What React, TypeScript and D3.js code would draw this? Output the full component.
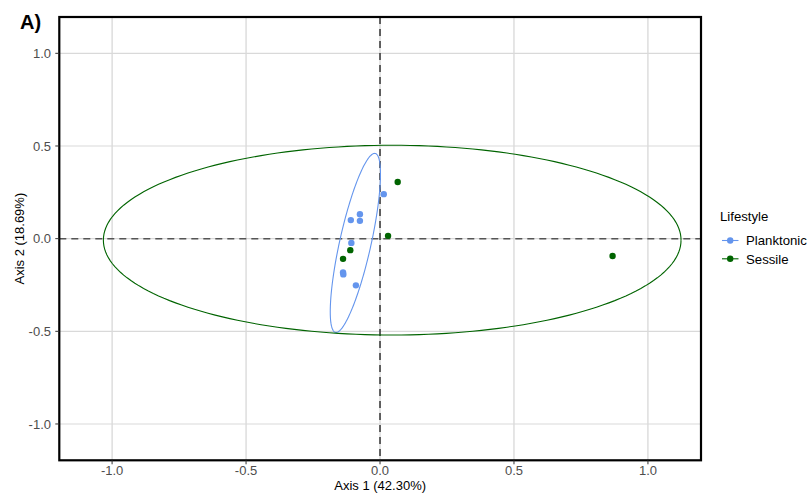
import React from "react";
import * as d3 from "d3";

const planktonicX = [0.014, -0.075, -0.109, -0.075, -0.107, -0.138, -0.137, -0.090];
const planktonicY = [0.240, 0.132, 0.100, 0.096, -0.023, -0.182, -0.193, -0.252];
const sessileX = [0.066, 0.030, -0.111, -0.138, 0.868];
const sessileY = [0.306, 0.015, -0.062, -0.109, -0.094];

// ellipse: center, conjugate half-axis vectors u, v (data units)
const planktonicEllipse = [-0.092, -0.023, 0.072, 0.483, 0.06, 0.0];
const sessileEllipse = [0.0455, -0.008, 1.078, 0.0, 0.0, 0.512];

const xTicks = [-1.0, -0.5, 0.0, 0.5, 1.0];
const yTicks = [-1.0, -0.5, 0.0, 0.5, 1.0];
const groups = ["Planktonic", "Sessile"];
const colors = ["#6495ED", "#006400"];

const W = 810, H = 493;
const L = 59.3, R = 701, T = 17, B = 460.3;
const FONT = "'Liberation Sans', Arial, Helvetica, sans-serif";
const fmt = (t: number) => t.toFixed(1);

export default function App() {
  const x = d3.scaleLinear().domain([-1.197, 1.198]).range([L, R]);
  const y = d3.scaleLinear().domain([-1.196, 1.196]).range([B, T]);

  const ellipsePath = (e: number[]) => {
    const pts: [number, number][] = d3.range(0, 201).map((i) => {
      const t = (i / 200) * 2 * Math.PI;
      return [
        x(e[0] + e[2] * Math.cos(t) + e[4] * Math.sin(t)),
        y(e[1] + e[3] * Math.cos(t) + e[5] * Math.sin(t)),
      ];
    });
    return d3.line()(pts) || "";
  };

  const series = [
    { xs: planktonicX, ys: planktonicY, e: planktonicEllipse, c: colors[0] },
    { xs: sessileX, ys: sessileY, e: sessileEllipse, c: colors[1] },
  ];

  return (
    <svg width={W} height={H} style={{ position: "absolute", left: 0, top: 0 }} fontFamily={FONT}>
      <rect x={0} y={0} width={W} height={H} fill="#fff" />
      {xTicks.map((t) => (
        <line key={"gx" + t} x1={x(t)} x2={x(t)} y1={T} y2={B} stroke="#cccccc" strokeWidth={1} />
      ))}
      {yTicks.map((t) => (
        <line key={"gy" + t} x1={L} x2={R} y1={y(t)} y2={y(t)} stroke="#d9d9d9" strokeWidth={1.2} />
      ))}
      <line x1={x(0)} x2={x(0)} y1={T} y2={B} stroke="#1a1a1a" strokeWidth={1.3} strokeDasharray="7,5" />
      <line x1={L} x2={R} y1={y(0)} y2={y(0)} stroke="#555" strokeWidth={1.5} strokeDasharray="7,5" />
      {series.map((s, i) => (
        <path key={"e" + i} d={ellipsePath(s.e)} fill="none" stroke={s.c} strokeWidth={1.1} />
      ))}
      {series.map((s, i) =>
        s.xs.map((v, j) => <circle key={"p" + i + "-" + j} cx={x(v)} cy={y(s.ys[j])} r={3.2} fill={s.c} />)
      )}
      <rect x={L} y={T} width={R - L} height={B - T} fill="none" stroke="#000" strokeWidth={2.2} />
      {xTicks.map((t) => (
        <g key={"tx" + t}>
          <line x1={x(t)} x2={x(t)} y1={B} y2={B + 4} stroke="#333" strokeWidth={1} />
          <text x={x(t)} y={475} textAnchor="middle" fontSize={13} fill="#4d4d4d">
            {fmt(t)}
          </text>
        </g>
      ))}
      {yTicks.map((t) => (
        <g key={"ty" + t}>
          <line x1={L - 4} x2={L} y1={y(t)} y2={y(t)} stroke="#333" strokeWidth={1} />
          <text x={51} y={y(t) + 4.7} textAnchor="end" fontSize={13} fill="#4d4d4d">
            {fmt(t)}
          </text>
        </g>
      ))}
      <text x={(L + R) / 2} y={489.5} textAnchor="middle" fontSize={13} fill="#000">
        Axis 1 (42.30%)
      </text>
      <text transform={`translate(24,${(T + B) / 2}) rotate(-90)`} textAnchor="middle" fontSize={13} fill="#000">
        Axis 2 (18.69%)
      </text>
      <text x={20} y={29} fontSize={20} fontWeight="bold" fill="#000">
        A)
      </text>
      <text x={720} y={221} fontSize={13.2} fill="#000">
        Lifestyle
      </text>
      {groups.map((g, i) => (
        <g key={"lg" + g} transform={`translate(0,${240.5 + i * 18.3})`}>
          <line x1={722} x2={738.5} y1={0} y2={0} stroke={colors[i]} strokeWidth={1.1} />
          <circle cx={730.2} cy={0} r={3.2} fill={colors[i]} />
          <text x={746} y={4.7} fontSize={13.2} fill="#000">
            {g}
          </text>
        </g>
      ))}
    </svg>
  );
}
